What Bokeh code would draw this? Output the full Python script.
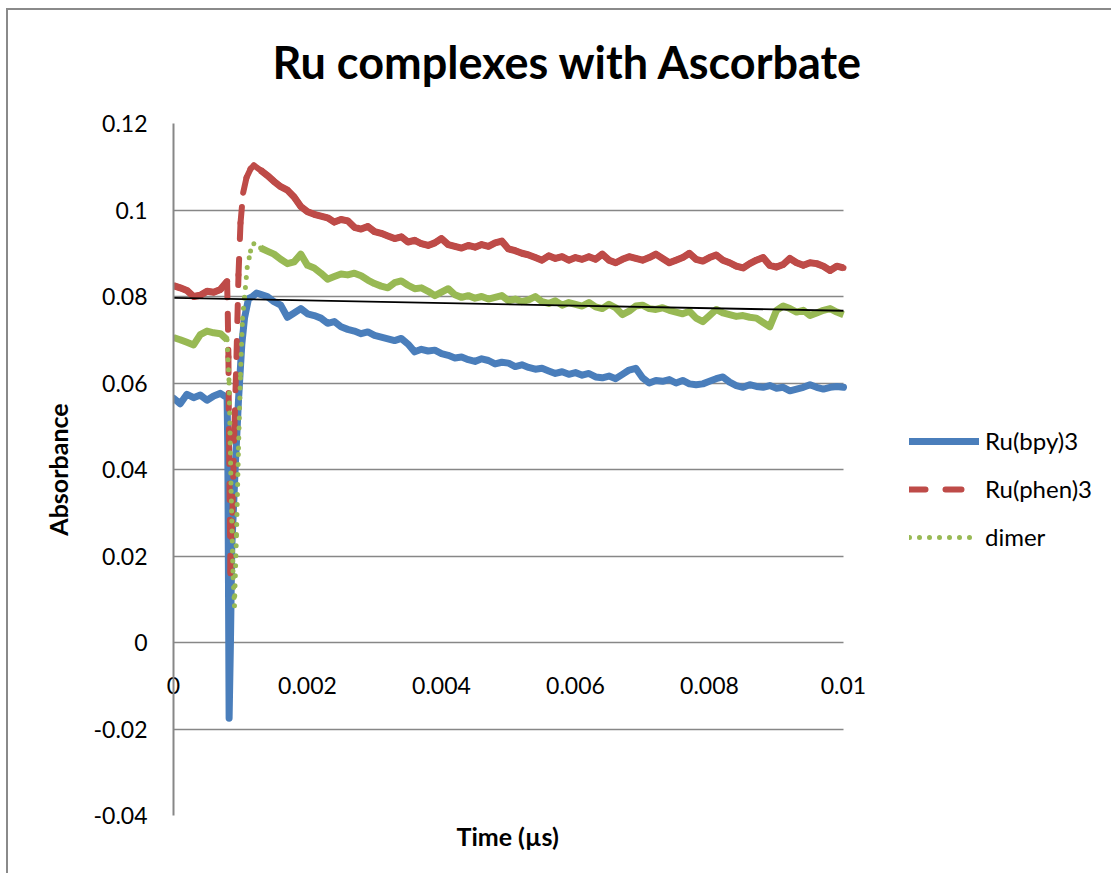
import numpy as np
from bokeh.plotting import figure
from bokeh.models import (FixedTicker, NumeralTickFormatter, Legend, LegendItem, Range1d,
                          Grid, Title)
from bokeh.embed import file_html
from bokeh.resources import INLINE

# ---------------- data (time in s, absorbance) ----------------
# regular sampling before and after the laser flash
t_pre = np.round(np.arange(0, 9) * 1e-4, 6)          # 0 .. 0.0008
t_post = np.round(np.arange(13, 101) * 1e-4, 6)      # 0.0013 .. 0.0100

# Ru(bpy)3
bpy_pre = [0.0565, 0.0552, 0.0574, 0.0566, 0.0572, 0.0560, 0.0570, 0.0576, 0.0566]
bpy_spike_t = [0.00081, 0.00082, 0.00083, 0.00085, 0.00087, 0.00092, 0.00097,
               0.00102, 0.00106, 0.00112, 0.00118, 0.00124]
bpy_spike = [0.0450, 0.0150, -0.0175, 0.0000, 0.0220, 0.0400, 0.0560,
             0.0690, 0.0750, 0.0795, 0.0800, 0.0808]
bpy_post = [
    0.0805, 0.0800, 0.0788, 0.0780, 0.0752, 0.0762, 0.0772, 0.0760, 0.0756, 0.0750,
    0.0738, 0.0742, 0.0730, 0.0724, 0.0720, 0.0714, 0.0718, 0.0710, 0.0706, 0.0702,
    0.0698, 0.0703, 0.0690, 0.0672, 0.0678, 0.0674, 0.0676, 0.0668, 0.0664, 0.0658,
    0.0660, 0.0654, 0.0650, 0.0656, 0.0652, 0.0644, 0.0648, 0.0646, 0.0638, 0.0642,
    0.0636, 0.0632, 0.0634, 0.0628, 0.0622, 0.0626, 0.0620, 0.0624, 0.0618, 0.0622,
    0.0614, 0.0612, 0.0616, 0.0610, 0.0620, 0.0630, 0.0634, 0.0612, 0.0600, 0.0606,
    0.0604, 0.0608, 0.0600, 0.0606, 0.0598, 0.0596, 0.0598, 0.0604, 0.0610, 0.0614,
    0.0602, 0.0594, 0.0590, 0.0596, 0.0592, 0.0590, 0.0594, 0.0588, 0.0590, 0.0582,
    0.0586, 0.0590, 0.0596, 0.0590, 0.0586, 0.0590, 0.0592, 0.0590]

# Ru(phen)3
phen_pre = [0.0825, 0.0820, 0.0814, 0.0800, 0.0803, 0.0812, 0.0810, 0.0816, 0.0835]
phen_spike_t = [0.00081, 0.00082, 0.00083, 0.00085, 0.00088, 0.00091, 0.00094,
                0.00097, 0.00100, 0.00104, 0.00109, 0.00115, 0.00120]
phen_spike = [0.0760, 0.0660, 0.0450, 0.0160, 0.0300, 0.0500, 0.0660,
              0.0850, 0.0970, 0.1040, 0.1075, 0.1095, 0.1103]
phen_post = [
    0.1092, 0.1080, 0.1066, 0.1054, 0.1046, 0.1030, 0.1008, 0.0996, 0.0990, 0.0986,
    0.0982, 0.0972, 0.0978, 0.0975, 0.0960, 0.0956, 0.0962, 0.0950, 0.0946, 0.0940,
    0.0934, 0.0938, 0.0926, 0.0930, 0.0922, 0.0918, 0.0924, 0.0934, 0.0920, 0.0916,
    0.0912, 0.0918, 0.0914, 0.0920, 0.0916, 0.0924, 0.0928, 0.0910, 0.0906, 0.0900,
    0.0896, 0.0890, 0.0884, 0.0894, 0.0888, 0.0892, 0.0884, 0.0890, 0.0886, 0.0892,
    0.0886, 0.0898, 0.0884, 0.0878, 0.0886, 0.0892, 0.0888, 0.0884, 0.0890, 0.0898,
    0.0888, 0.0878, 0.0884, 0.0890, 0.0900, 0.0886, 0.0882, 0.0890, 0.0896, 0.0884,
    0.0878, 0.0870, 0.0866, 0.0876, 0.0884, 0.0890, 0.0872, 0.0868, 0.0874, 0.0888,
    0.0878, 0.0872, 0.0878, 0.0876, 0.0870, 0.0860, 0.0870, 0.0866]

# dimer
dimer_pre = [0.0705, 0.0700, 0.0694, 0.0688, 0.0712, 0.0720, 0.0716, 0.0714, 0.0700]
dimer_spike_t = [0.00083, 0.00086, 0.00089, 0.00091, 0.00094, 0.00097, 0.00100,
                 0.00103, 0.00106, 0.00110, 0.00115, 0.00120]
dimer_spike = [0.0600, 0.0350, 0.0150, 0.0085, 0.0250, 0.0450, 0.0620,
               0.0750, 0.0798, 0.0867, 0.0905, 0.0922]
dimer_post = [
    0.0912, 0.0905, 0.0898, 0.0886, 0.0876, 0.0880, 0.0898, 0.0872, 0.0866, 0.0854,
    0.0840, 0.0846, 0.0852, 0.0850, 0.0854, 0.0848, 0.0838, 0.0830, 0.0824, 0.0820,
    0.0832, 0.0836, 0.0826, 0.0818, 0.0820, 0.0812, 0.0802, 0.0810, 0.0818, 0.0804,
    0.0798, 0.0802, 0.0796, 0.0800, 0.0794, 0.0798, 0.0802, 0.0790, 0.0794, 0.0788,
    0.0792, 0.0800, 0.0788, 0.0784, 0.0790, 0.0780, 0.0786, 0.0782, 0.0778, 0.0786,
    0.0776, 0.0772, 0.0782, 0.0774, 0.0758, 0.0766, 0.0778, 0.0780, 0.0772, 0.0770,
    0.0774, 0.0768, 0.0764, 0.0760, 0.0766, 0.0750, 0.0742, 0.0756, 0.0770, 0.0762,
    0.0758, 0.0754, 0.0756, 0.0752, 0.0750, 0.0740, 0.0730, 0.0768, 0.0778, 0.0772,
    0.0764, 0.0768, 0.0756, 0.0762, 0.0768, 0.0772, 0.0764, 0.0758]

# linear trend line
trend_t = [0.0, 0.01]
trend_v = [0.0797, 0.0767]

y_ticks = [-0.04, -0.02, 0.0, 0.02, 0.04, 0.06, 0.08, 0.10, 0.12]
x_ticks = [0.0, 0.002, 0.004, 0.006, 0.008, 0.01]
X_MIN, X_MAX = 0.0, 0.01          # extent of the plotted axis

BLUE, RED, GREEN = "#4A7EBB", "#BE4B48", "#98B954"
GRID = "#878787"
FONT = "Lato"


def full(pre, st, sv, post):
    t = np.concatenate([t_pre, st, t_post])
    v = np.concatenate([pre, sv, post])
    return t, v


tb, vb = full(bpy_pre, bpy_spike_t, bpy_spike, bpy_post)
tr, vr = full(phen_pre, phen_spike_t, phen_spike, phen_post)
tg, vg = full(dimer_pre, dimer_spike_t, dimer_spike, dimer_post)

# ---------------- figure ----------------
# The frame is wider than the axis (0..0.01) so that the legend, which sits to the
# right of the axis area, lies inside the frame.  Frame = 938 px, axis = 670 px.
FIG_W, LEFT, RIGHT = 1105, 165, 2
FRAME_W, AXIS_W = FIG_W - LEFT - RIGHT, 670
x_hi = X_MAX * FRAME_W / AXIS_W

p = figure(width=FIG_W, height=865, output_backend="svg", toolbar_location=None,
           x_range=Range1d(X_MIN, x_hi), y_range=Range1d(-0.04, 0.12),
           min_border_left=LEFT, min_border_right=RIGHT, min_border_top=113,
           min_border_bottom=60,
           styles={"border-top": "2px solid #8a8a8a", "border-left": "2px solid #8a8a8a",
                   "margin-left": "6px", "margin-top": "8px"})
p.outline_line_color = None
p.background_fill_color = "white"
p.border_fill_color = "white"

p.title.text = "Ru complexes with Ascorbate"
p.title.text_font = FONT
p.title.text_font_style = "bold"
p.title.text_font_size = "45px"
p.title.text_color = "black"
p.title.align = "left"
p.title.offset = 99
if "padding" in Title.properties():
    p.title.padding = dict(left=0, right=0, top=0, bottom=14)
    p.title.standoff = 42
else:
    p.title.standoff = 56

# grid: horizontal lines only, spanning the axis area
p.xgrid.visible = False
yg = p.ygrid[0]
if "cross_bounds" in Grid.properties():
    yg.ticker = FixedTicker(ticks=y_ticks)
    yg.grid_line_color = GRID
    yg.grid_line_width = 1.5
    yg.cross_bounds = (X_MIN, X_MAX)
else:
    yg.visible = False
    p.segment([X_MIN] * len(y_ticks), y_ticks, [X_MAX] * len(y_ticks), y_ticks,
              line_color=GRID, line_width=1.5)

# y axis
ya = p.yaxis[0]
ya.ticker = FixedTicker(ticks=y_ticks)
ya.formatter = NumeralTickFormatter(format="0.[00]")
ya.axis_line_color = GRID
ya.axis_line_width = 2
ya.major_tick_out = 0
ya.major_tick_in = 0
ya.minor_tick_out = 0
ya.minor_tick_in = 0
ya.major_label_standoff = 26
ya.major_label_text_font = FONT
ya.major_label_text_font_size = "23px"
ya.major_label_text_color = "black"
ya.axis_label = "Absorbance"
ya.axis_label_text_font = FONT
ya.axis_label_text_font_style = "bold"
ya.axis_label_text_font_size = "25px"
ya.axis_label_text_color = "black"
ya.axis_label_standoff = 18

# x axis title, centred under the axis area (0..0.01) rather than the frame
time_title = Title(text="Time (µs)", align="left", offset=283, standoff=6,
                   text_font=FONT, text_font_style="bold", text_font_size="25px",
                   text_color="black")

# x axis: tick labels pulled up next to the y = 0 line
xa = p.xaxis[0]
xa.ticker = FixedTicker(ticks=x_ticks)
xa.formatter = NumeralTickFormatter(format="0.[000]")
xa.bounds = (X_MIN, X_MAX)
xa.axis_line_color = None
xa.major_tick_out = 0
xa.major_tick_in = 0
xa.minor_tick_out = 0
xa.minor_tick_in = 0
xa.major_label_standoff = -177
xa.major_label_text_font = FONT
xa.major_label_text_font_size = "23px"
xa.major_label_text_color = "black"
p.below = [time_title, xa]

# ---------------- series ----------------
r_b = p.line(tb, vb, line_color=BLUE, line_width=7, line_join="round", line_cap="round")

p.line(t_pre, phen_pre, line_color=RED, line_width=7, line_join="round")
p.line(t_post, phen_post, line_color=RED, line_width=7, line_join="round")
r_r = p.segment(tr[:-1], vr[:-1], tr[1:], vr[1:], line_color=RED, line_width=6,
                line_cap="round", line_dash="16 20")

p.line(t_pre, dimer_pre, line_color=GREEN, line_width=7, line_join="round")
p.line(t_post, dimer_post, line_color=GREEN, line_width=7, line_join="round")
r_g = p.segment(tg[:-1], vg[:-1], tg[1:], vg[1:], line_color=GREEN, line_width=5,
                line_cap="round", line_dash="0 10")

p.line(trend_t, trend_v, line_color="black", line_width=1.8)

legend = Legend(items=[LegendItem(label="Ru(bpy)3", renderers=[r_b]),
                       LegendItem(label="Ru(phen)3", renderers=[r_r]),
                       LegendItem(label="dimer", renderers=[r_g])],
                location=(736, 264), orientation="vertical")
legend.padding = 0
legend.margin = 0
legend.border_line_color = None
legend.background_fill_alpha = 0
legend.glyph_width = 70
legend.glyph_height = 24
legend.label_height = 24
legend.label_standoff = 6
legend.spacing = 19
legend.label_text_font = FONT
legend.label_text_font_size = "24px"
legend.label_text_color = "black"
p.add_layout(legend)

open("out.html", "w").write(file_html(p, INLINE))
